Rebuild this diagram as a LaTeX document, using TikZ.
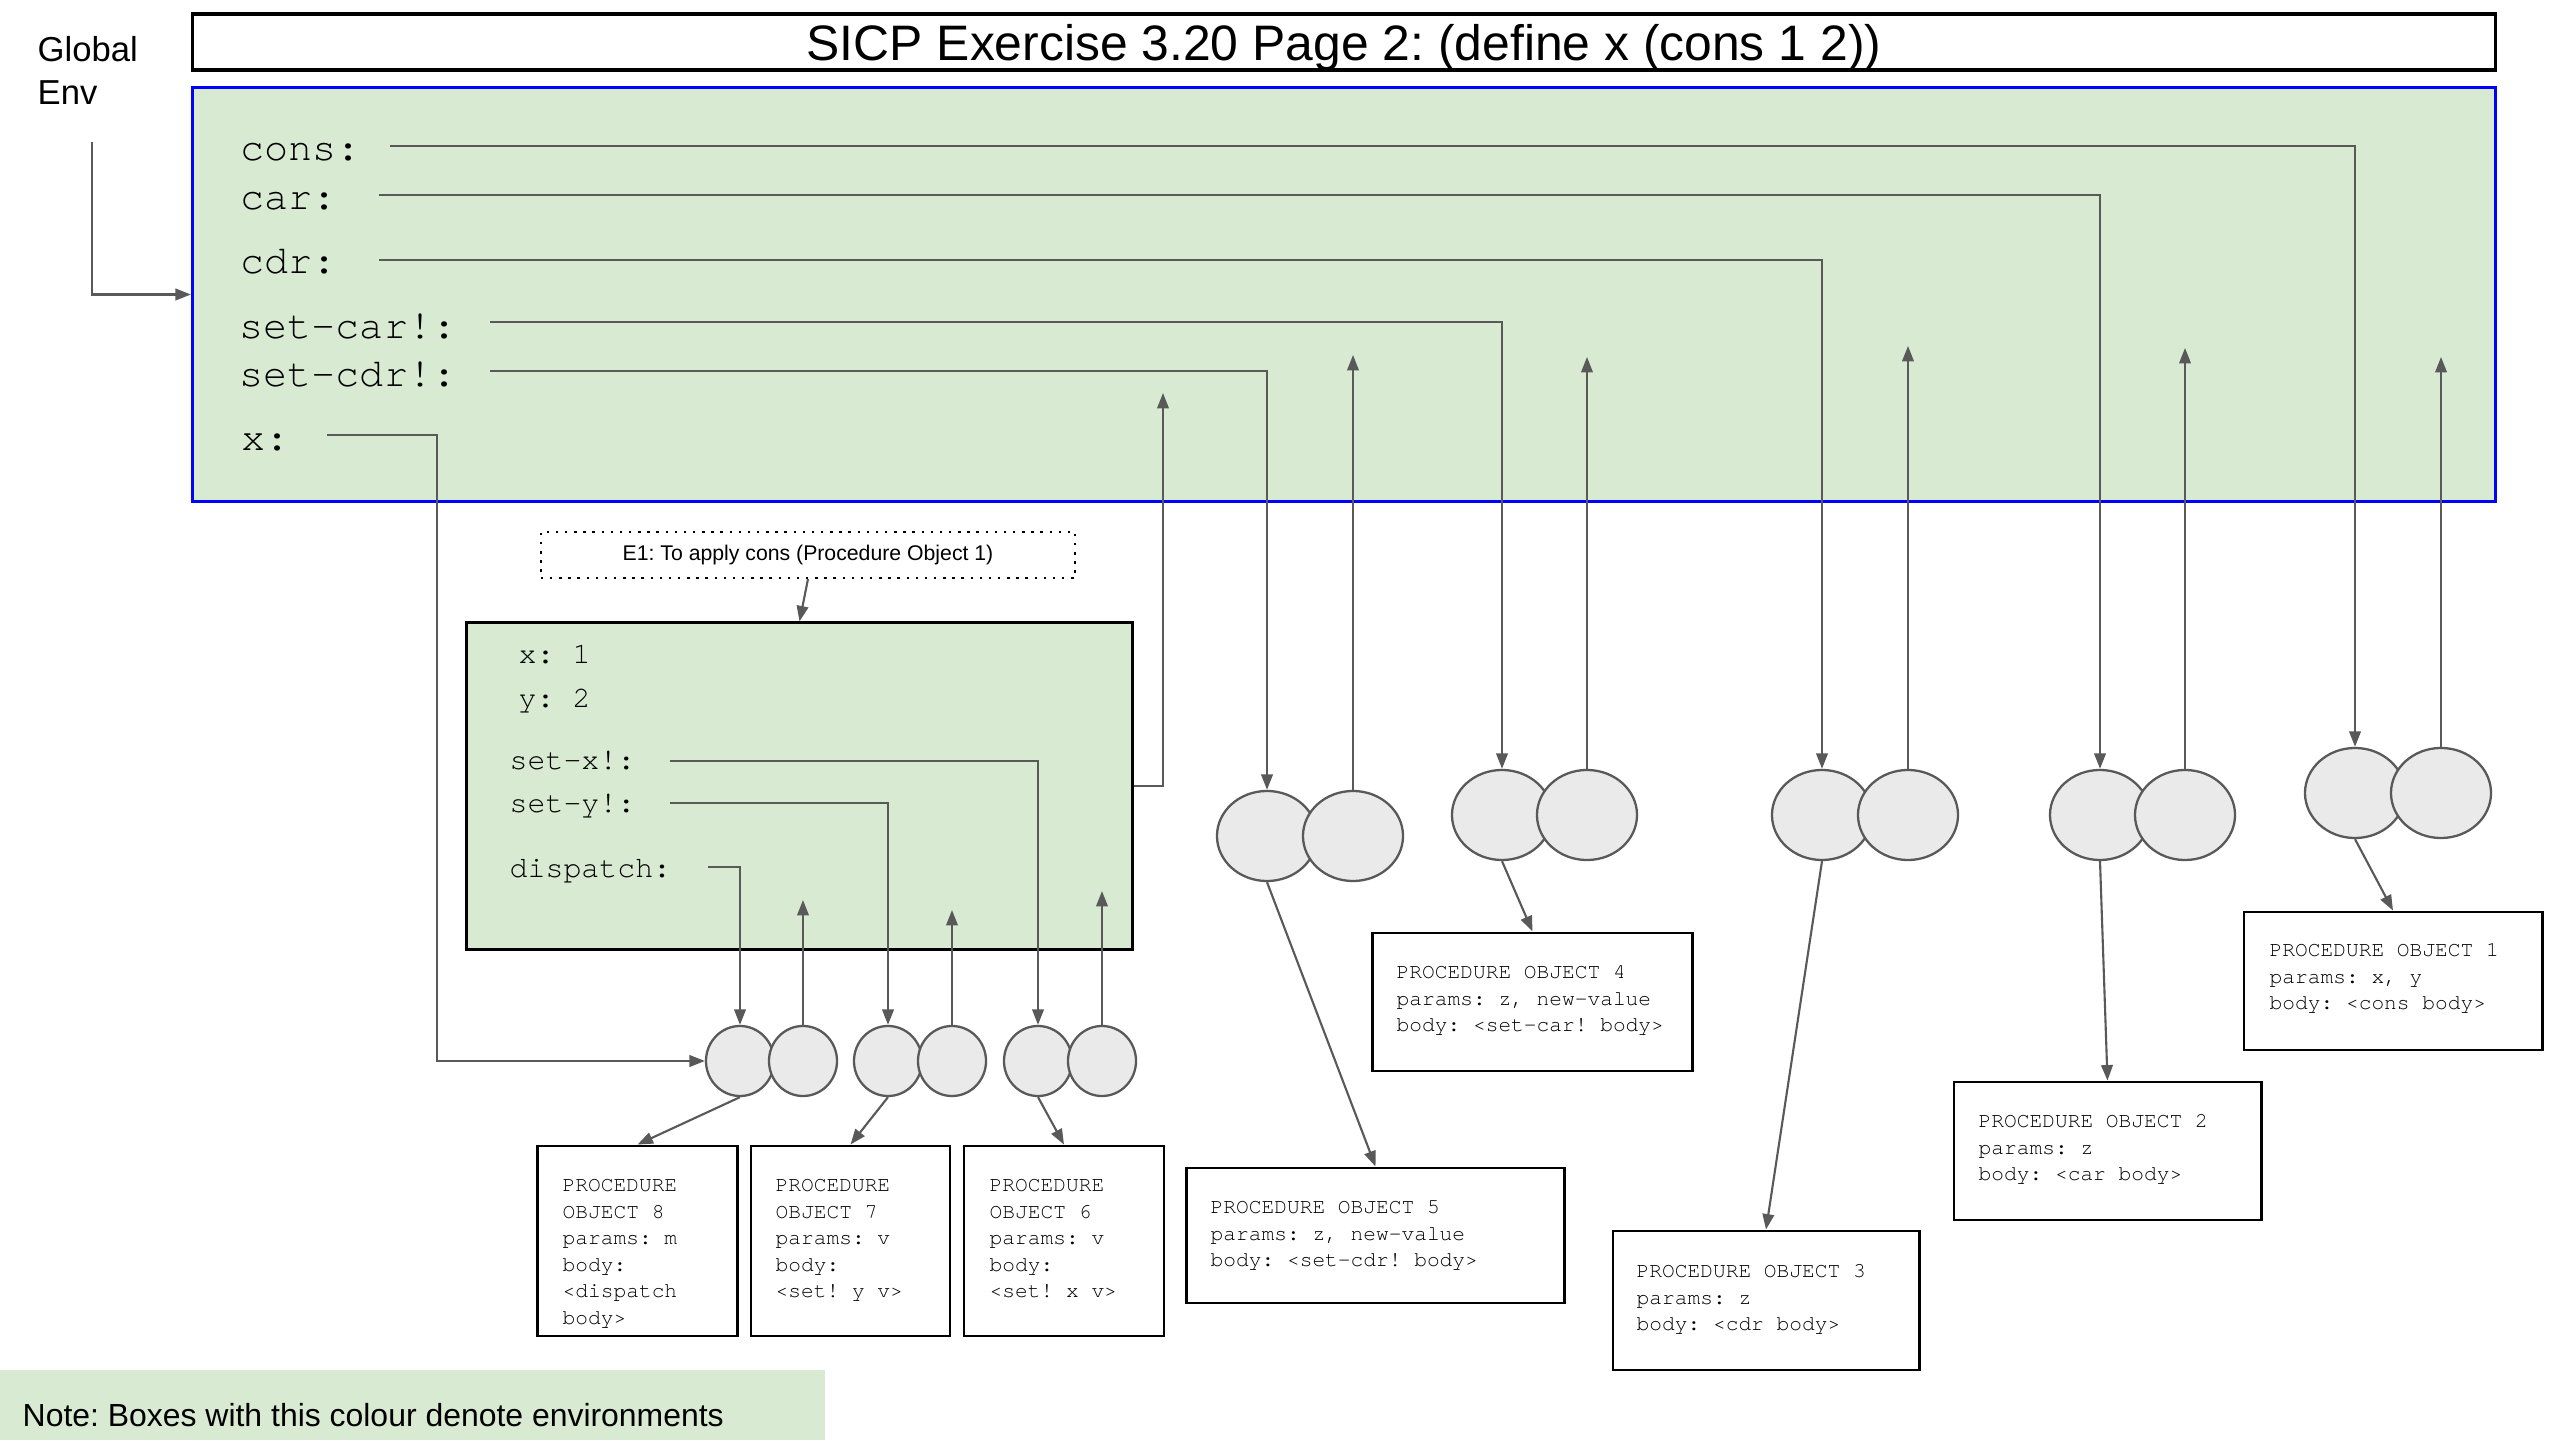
\documentclass[tikz,border=0pt]{standalone}
\usepackage{fontspec}
\setmainfont{Liberation Sans}
\newfontfamily\cur{TeX Gyre Cursor}
\usetikzlibrary{arrows.meta,shapes.geometric}
\definecolor{envgreen}{HTML}{D9EAD3}
\definecolor{lc}{HTML}{595959}
\definecolor{cellfill}{HTML}{EAEAEA}
\definecolor{envblue}{HTML}{0000FF}
\newcommand\fl{\rule{0pt}{5pt}}
\frenchspacing
\pgfdeclarelayer{envlayer}
\pgfdeclarelayer{connlayer}
\pgfsetlayers{envlayer,connlayer,main}
\tikzset{
  conn/.style={draw=lc, line width=0.6pt},
  arr/.style={conn, -{Triangle[length=4.4pt,width=3.3pt]}},
  bigcell/.style={ellipse, draw=lc, fill=cellfill, line width=0.65pt, minimum width=1.0cm, minimum height=0.9cm, inner sep=0pt},
  smallcell/.style={ellipse, draw=lc, fill=cellfill, line width=0.65pt, minimum width=0.68cm, minimum height=0.70cm, inner sep=0pt},
  pobox/.style={draw=black, line width=0.8pt, fill=white, inner sep=0pt},
  potext/.style={anchor=north west, inner sep=0pt, align=left, font=\cur\fontsize{6.03}{7.54}\selectfont},
  glabel/.style={anchor=base west, inner sep=0pt, font=\cur\fontsize{11.4}{13}\selectfont},
  elabel/.style={anchor=base west, inner sep=0pt, font=\cur\fontsize{8.5}{10}\selectfont},
}
\begin{document}
\frenchspacing
\begin{tikzpicture}[x=0.01cm,y=-0.01cm]
\useasboundingbox (0,0) rectangle (2560,1440);
\begin{pgfonlayer}{envlayer}
\fill[white] (0,0) rectangle (2560,1440);
\node[draw=envblue, fill=envgreen, line width=0.85pt, minimum width=23.02cm, minimum height=4.13cm, inner sep=0pt] (genv) at (1344,294.5) {};
\node[draw=black, fill=envgreen, line width=0.85pt, minimum width=6.65cm, minimum height=3.26cm, inner sep=0pt] (e1) at (799.5,786) {};
\node[fill=envgreen, minimum width=8.25cm, minimum height=0.90cm, inner sep=0pt] (note) at (412.5,1415) {};
\end{pgfonlayer}

% title
\node[draw=black, line width=0.9pt, minimum width=23.02cm, minimum height=0.56cm, inner sep=0pt, text depth=0pt,
      font=\fontsize{14.17}{17}\selectfont] (title) at (1344,42) {SICP Exercise 3.20 Page 2: (define x (cons 1 2))};

% global env
\node[align=left, anchor=north west, inner sep=0pt, font=\fontsize{9.85}{12.04}\selectfont] (genvlab) at (37,29.4) {\rule{0pt}{9pt}Global\\Env};
\coordinate (genvS) at (92,142);

\node[glabel] (lcons) at (240,161) {cons:};
\node[glabel] (lcar) at (240,210) {car:};
\node[glabel] (lcdr) at (240,274) {cdr:};
\node[glabel] (lscar) at (239,339) {set-car!:};
\node[glabel] (lscdr) at (239,387) {set-cdr!:};
\node[glabel] (lx) at (241,451) {x:};

\coordinate (consS) at (390,146);
\coordinate (carS) at (379,195);
\coordinate (cdrS) at (379,260);
\coordinate (scarS) at (490,322);
\coordinate (scdrS) at (490,371);
\coordinate (xS) at (327,435);
\coordinate (xK) at (437,1061);

% E1
\node[draw=black, dash pattern=on 0.7pt off 1.9pt, line width=0.6pt, minimum width=5.34cm, minimum height=0.46cm, inner sep=0pt,
      font=\fontsize{6.04}{7}\selectfont] (e1lab) at (808,555) {E1: To apply cons (Procedure Object 1)};

\node[elabel] (ex) at (518,664) {x: 1};
\node[elabel] (ey) at (518,708) {y: 2};
\node[elabel] (esx) at (509,770) {set-x!:};
\node[elabel] (esy) at (509,813) {set-y!:};
\node[elabel] (edisp) at (509,877) {dispatch:};

\coordinate (sxS) at (670,761);
\coordinate (syS) at (670,803);
\coordinate (dpS) at (708,867);
\coordinate (e1T) at (1163,393);

% pointer tips
\coordinate (t1) at (2441,357);
\coordinate (t2) at (2185,348);
\coordinate (t3) at (1908,346);
\coordinate (t4) at (1587,357);
\coordinate (t5) at (1353,355);
\coordinate (t6) at (1102,891);
\coordinate (t7) at (952,910);
\coordinate (t8) at (803,900);

% cells
\node[bigcell] (c1l) at (2355,793) {};
\node[bigcell] (c1r) at (2441,793) {};
\node[bigcell] (c2l) at (2100,815) {};
\node[bigcell] (c2r) at (2185,815) {};
\node[bigcell] (c3l) at (1822,815) {};
\node[bigcell] (c3r) at (1908,815) {};
\node[bigcell] (c4l) at (1502,815) {};
\node[bigcell] (c4r) at (1587,815) {};
\node[bigcell] (c5l) at (1267,836) {};
\node[bigcell] (c5r) at (1353,836) {};
\node[smallcell] (c8l) at (740,1061) {};
\node[smallcell] (c8r) at (803,1061) {};
\node[smallcell] (c7l) at (888,1061) {};
\node[smallcell] (c7r) at (952,1061) {};
\node[smallcell] (c6l) at (1038,1061) {};
\node[smallcell] (c6r) at (1102,1061) {};

% procedure objects
\node[pobox, minimum width=2.98cm, minimum height=1.38cm] (po1) at (2393,981) {};
\node[pobox, minimum width=3.07cm, minimum height=1.38cm] (po2) at (2107.5,1151) {};
\node[pobox, minimum width=3.06cm, minimum height=1.39cm] (po3) at (1766,1300.5) {};
\node[pobox, minimum width=3.20cm, minimum height=1.38cm] (po4) at (1532.5,1002) {};
\node[pobox, minimum width=3.77cm, minimum height=1.35cm] (po5) at (1375.5,1235.5) {};
\node[pobox, minimum width=2.00cm, minimum height=1.90cm] (po6) at (1064,1241) {};
\node[pobox, minimum width=1.99cm, minimum height=1.90cm] (po7) at (850.5,1241) {};
\node[pobox, minimum width=2.00cm, minimum height=1.90cm] (po8) at (637.5,1241) {};

\node[potext] (po1t) at (2269,938.4) {\fl PROCEDURE OBJECT 1\\params: x, y\\body: <cons body>};
\node[potext] (po2t) at (1978,1109.4) {\fl PROCEDURE OBJECT 2\\params: z\\body: <car body>};
\node[potext] (po3t) at (1636,1259.4) {\fl PROCEDURE OBJECT 3\\params: z\\body: <cdr body>};
\node[potext] (po4t) at (1396,960.4) {\fl PROCEDURE OBJECT 4\\params: z, new-value\\body: <set-car! body>};
\node[potext] (po5t) at (1210,1195.4) {\fl PROCEDURE OBJECT 5\\params: z, new-value\\body: <set-cdr! body>};
\node[potext] (po6t) at (989,1173.4) {\fl PROCEDURE\\OBJECT 6\\params: v\\body:\\<set! x v>};
\node[potext] (po7t) at (775,1173.4) {\fl PROCEDURE\\OBJECT 7\\params: v\\body:\\<set! y v>};
\node[potext] (po8t) at (562,1173.4) {\fl PROCEDURE\\OBJECT 8\\params: m\\body:\\<dispatch\\body>};

% note
\node[anchor=west, inner sep=0pt, font=\fontsize{9.08}{11}\selectfont] (notet) at (22,1415) {Note: Boxes with this colour denote environments};

% connectors
\begin{pgfonlayer}{connlayer}
\draw[arr] (genvS) |- (genv.west);
\draw[arr] (consS) -| (c1l.north);
\draw[arr] (carS) -| (c2l.north);
\draw[arr] (cdrS) -| (c3l.north);
\draw[arr] (scarS) -| (c4l.north);
\draw[arr] (scdrS) -| (c5l.north);
\draw[arr] (xS) -| (xK) -- (c8l.west);
\draw[arr] (sxS) -| (c6l.north);
\draw[arr] (syS) -| (c7l.north);
\draw[arr] (dpS) -| (c8l.north);
\draw[arr] (c1r.north) -- (t1);
\draw[arr] (c2r.north) -- (t2);
\draw[arr] (c3r.north) -- (t3);
\draw[arr] (c4r.north) -- (t4);
\draw[arr] (c5r.north) -- (t5);
\draw[arr] (c6r.north) -- (t6);
\draw[arr] (c7r.north) -- (t7);
\draw[arr] (c8r.north) -- (t8);
\draw[arr] (e1.east) -| (e1T);
\draw[arr] (e1lab.south) -- (e1.north);
\draw[arr] (c1l.south) -- (po1.north);
\draw[arr] (c2l.south) -- (po2.north);
\draw[arr] (c3l.south) -- (po3.north);
\draw[arr] (c4l.south) -- (po4.north);
\draw[arr] (c5l.south) -- (po5.north);
\draw[arr] (c6l.south) -- (po6.north);
\draw[arr] (c7l.south) -- (po7.north);
\draw[arr] (c8l.south) -- (po8.north);
\end{pgfonlayer}
\end{tikzpicture}
\end{document}
